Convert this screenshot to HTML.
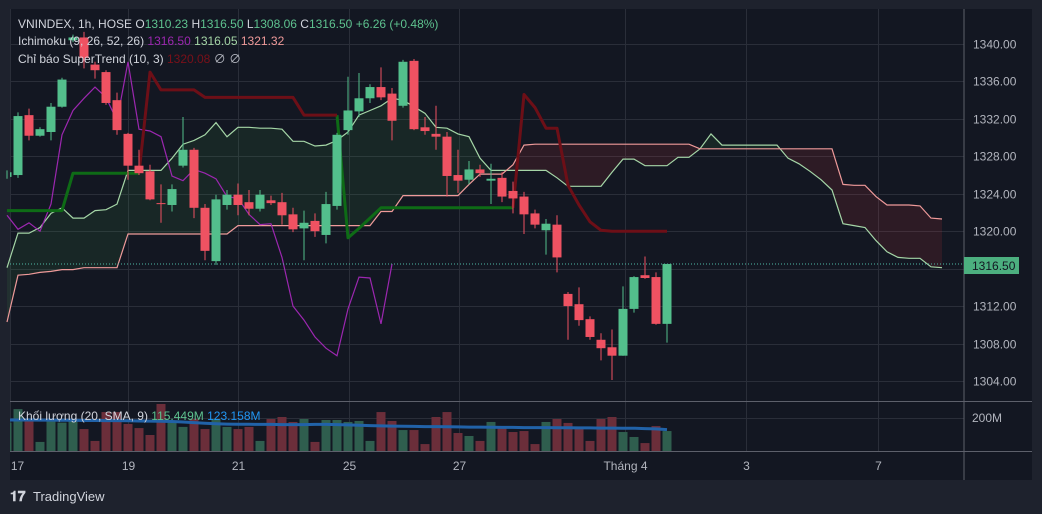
<!DOCTYPE html>
<html><head><meta charset="utf-8"><style>
html,body{margin:0;padding:0;background:#1e222d;}
svg{display:block;font-family:"Liberation Sans","Noto Sans CJK JP",sans-serif;}
</style></head><body>
<svg id="chart" width="1042" height="514" viewBox="0 0 1042 514" xmlns="http://www.w3.org/2000/svg">
<rect x="0" y="0" width="1042" height="514" fill="#1e222d"/>
<rect x="10" y="9" width="1022" height="471" fill="#131722"/>
<g id="grid"></g>
<g id="cloud"></g>
<g id="lines"></g>
<g id="vol"></g>
<g id="candles"></g>
<g id="axes"></g>
<line x1="964" y1="9" x2="964" y2="480" stroke="#5d606b" stroke-width="1"/>
<line x1="10" y1="401.5" x2="1032" y2="401.5" stroke="#5d606b" stroke-width="1"/>
<line x1="10" y1="451.5" x2="1032" y2="451.5" stroke="#5d606b" stroke-width="1"/>
<g font-size="12">
<text x="18" y="28" fill="#d1d4dc">VNINDEX, 1h, HOSE <tspan fill="#d1d4dc">O</tspan><tspan fill="#5ec28f">1310.23</tspan> <tspan>H</tspan><tspan fill="#5ec28f">1316.50</tspan> <tspan>L</tspan><tspan fill="#5ec28f">1308.06</tspan> <tspan>C</tspan><tspan fill="#5ec28f">1316.50</tspan> <tspan fill="#5ec28f">+6.26 (+0.48%)</tspan></text>
<text x="18" y="45" fill="#d1d4dc">Ichimoku (9, 26, 52, 26) <tspan fill="#9c27b0">1316.50</tspan> <tspan fill="#a5d6a7">1316.05</tspan> <tspan fill="#ef9a9a">1321.32</tspan></text>
<text x="18" y="63" fill="#d1d4dc">Chỉ báo SuperTrend (10, 3) <tspan fill="#7a1019">1320.08</tspan> <tspan fill="#b2b5be">∅</tspan> <tspan fill="#b2b5be">∅</tspan></text>
<text x="18" y="420" fill="#d1d4dc">Khối lượng (20, SMA, 9) <tspan fill="#5ec28f">115.449M</tspan> <tspan fill="#2196f3">123.158M</tspan></text>
</g>
<rect x="964" y="257" width="55" height="17" fill="#4caf7f"/>
<text x="972" y="270" font-size="12" fill="#131722">1316.50</text>
<g>
<text x="10" y="501" font-size="14" font-weight="bold" fill="#d1d4dc">𝟏𝟕</text>
<text x="33" y="501" font-size="13" fill="#d1d4dc">TradingView</text>
</g>
</svg>
<script>
const opens=[1325.8,1326.0,1332.4,1330.2,1330.6,1333.3,1340.4,1340.7,1337.8,1337.0,1334.0,1330.4,1327.0,1326.4,1323.0,1322.8,1327.0,1328.7,1322.5,1316.8,1322.8,1323.9,1323.1,1322.4,1323.3,1323.1,1321.8,1320.3,1321.1,1319.6,1322.7,1330.8,1332.8,1334.2,1335.4,1334.7,1333.4,1338.2,1331.1,1330.4,1330.1,1326.0,1325.5,1326.6,1325.4,1325.7,1324.3,1323.7,1321.9,1320.1,1320.7,1313.3,1312.2,1310.6,1308.4,1307.6,1306.7,1311.7,1315.3,1315.1,1310.1];
const highs=[1326.5,1332.7,1333.1,1331.1,1333.7,1336.4,1341.0,1341.3,1338.1,1337.2,1334.8,1330.5,1328.7,1327.1,1325.0,1325.0,1332.2,1328.9,1322.9,1323.9,1324.4,1325.1,1324.4,1324.4,1323.8,1324.1,1322.5,1322.2,1321.9,1324.2,1330.5,1336.5,1336.9,1335.7,1337.5,1335.3,1338.3,1338.4,1332.2,1333.4,1330.6,1328.7,1327.5,1327.1,1327.2,1326.3,1325.3,1324.2,1322.3,1321.3,1321.7,1313.5,1314.0,1310.9,1309.1,1309.5,1314.1,1315.2,1317.3,1315.6,1316.5];
const lows=[1325.6,1325.7,1329.7,1330.1,1329.7,1333.2,1340.2,1337.4,1336.3,1333.5,1330.3,1325.5,1326.0,1323.3,1320.9,1322.1,1326.8,1321.4,1316.9,1316.4,1322.3,1321.7,1321.7,1322.1,1322.8,1320.7,1319.9,1316.9,1319.4,1318.7,1322.3,1330.3,1332.2,1333.7,1334.0,1329.7,1333.2,1330.8,1330.3,1328.7,1323.7,1324.1,1325.0,1325.8,1322.9,1323.1,1321.9,1319.7,1320.3,1317.5,1315.6,1308.4,1309.9,1308.4,1306.2,1304.1,1306.7,1311.3,1314.9,1310.0,1308.1];
const closes=[1326.3,1332.3,1330.2,1330.9,1333.3,1336.2,1340.7,1338.5,1337.2,1333.7,1330.8,1327.0,1326.2,1323.4,1322.9,1324.5,1328.7,1322.5,1317.9,1323.4,1323.9,1322.8,1322.4,1323.9,1323.0,1321.7,1320.2,1320.9,1320.0,1322.9,1330.3,1332.9,1334.2,1335.4,1334.3,1331.8,1338.1,1330.9,1330.7,1330.1,1325.9,1325.4,1326.6,1326.2,1325.6,1323.7,1323.5,1321.8,1320.7,1320.8,1317.2,1312.0,1310.5,1308.7,1307.5,1306.7,1311.7,1315.1,1315.0,1310.1,1316.5];
const volumes=[172,254,194,55,194,172,188,133,61,236,236,164,139,97,285,172,146,194,133,194,146,133,146,61,194,206,176,194,55,188,188,176,182,61,236,182,127,127,42,206,236,109,91,61,176,139,115,121,42,176,194,170,133,61,194,206,115,85,48,151,121];
const volSma=[188,188,188,187,187,186,186,185,185,184,184,183,182,181,180,179,176,172,168,165,163,162,162,161,161,160,160,160,161,161,160,158,156,154,152,151,150,149,148,148,147,146,145,145,144,143,143,142,142,142,141,141,140,140,139,139,138,138,136,134,130];
const spanA=[1316.1,1319.8,1319.8,1320.4,1321.9,1322.5,1321.4,1321.4,1322.2,1322.3,1322.9,1326.5,1326.5,1326.5,1326.5,1327.8,1329.3,1329.7,1330.3,1331.6,1330.1,1331.1,1331.1,1331.0,1331.0,1330.9,1329.6,1329.6,1329.1,1329.2,1329.7,1330.6,1332.4,1332.9,1333.4,1334.2,1334.0,1333.3,1332.6,1331.1,1331.0,1330.4,1330.1,1327.8,1326.5,1326.5,1326.5,1326.5,1326.5,1326.5,1325.7,1324.8,1324.8,1324.8,1324.8,1326.3,1327.7,1327.7,1327.0,1327.0,1327.0,1327.9,1327.9,1328.8,1330.4,1329.2,1329.2,1329.2,1329.2,1329.2,1329.2,1327.8,1327.2,1326.4,1325.5,1324.4,1320.8,1320.6,1320.4,1319.0,1317.8,1317.2,1317.1,1317.1,1316.2,1316.1];
const spanB=[1310.3,1315.3,1315.4,1315.6,1315.7,1315.9,1315.9,1316.1,1316.1,1316.1,1316.1,1319.7,1319.7,1319.7,1319.7,1319.7,1319.7,1319.7,1319.7,1319.7,1319.7,1320.6,1320.6,1320.6,1320.6,1320.6,1320.6,1320.6,1320.6,1320.6,1320.6,1320.6,1320.6,1320.6,1322.1,1322.1,1323.8,1323.8,1323.8,1323.8,1323.8,1323.8,1325.0,1326.1,1326.1,1326.1,1327.1,1329.2,1329.3,1329.3,1329.3,1329.3,1329.3,1329.3,1329.3,1329.3,1329.3,1329.3,1329.3,1329.3,1329.3,1329.3,1329.3,1328.8,1328.8,1328.8,1328.8,1328.8,1328.8,1328.8,1328.8,1328.8,1328.8,1328.8,1328.8,1328.8,1325.0,1324.9,1324.9,1323.7,1322.8,1322.8,1322.8,1322.7,1321.4,1321.3];
const stUp=[1322.2,1322.2,1322.2,1322.2,1322.2,1322.2,1326.2,1326.2,1326.2,1326.2,1326.2,1326.2,1326.2,null,null,null,null,null,null,null,null,null,null,null,null,null,null,null,null,null,1332.4,1319.3,1320.3,1321.4,1322.5,1322.5,1322.5,1322.5,1322.5,1322.5,1322.5,1322.5,1322.5,1322.5,1322.5,1322.5,1322.5,null,null,null,null,null,null,null,null,null,null,null,null,null,null];
const stDown=[null,null,null,null,null,null,null,null,null,null,null,null,1326.2,1337.0,1335.1,1335.1,1335.1,1335.1,1334.3,1334.3,1334.3,1334.3,1334.3,1334.3,1334.3,1334.3,1334.3,1332.4,1332.4,1332.4,1332.4,null,null,null,null,null,null,null,null,null,null,null,null,null,null,null,1322.5,1334.6,1333.2,1331.0,1331.0,1324.9,1322.8,1321.0,1320.1,1320.0,1320.0,1320.0,1320.0,1320.0,1320.0];
const lagShift=25;
const priceTicks=[1340,1336,1332,1328,1324,1320,1316,1312,1308,1304];
const priceTickLabels=["1340.00","1336.00","1332.00","1328.00","1324.00","1320.00","1316.00","1312.00","1308.00","1304.00"];
const timeTickIdx=[0.3,11,21,31.1,41.1,56.2,67.2,79.2];
const timeTickLabels=["17","19","21","25","27","Tháng 4","3","7"];
const lastPrice=1316.5;

const NS="http://www.w3.org/2000/svg";
const xI=i=>7+11*i;
const yP=p=>44+(1340-p)*9.36;
const yV=v=>451-v*0.165;
function mk(tag,attrs,parent){const e=document.createElementNS(NS,tag);for(const k in attrs)e.setAttribute(k,attrs[k]);parent.appendChild(e);return e;}
const G=id=>document.getElementById(id);

// grid
priceTicks.forEach((p,k)=>{
  const y=Math.round(yP(p))+0.5;
  const l=mk('line',{x1:10,x2:964,y1:y,y2:y,stroke:'#2a2e39','stroke-width':1},G('grid'));
  
  
  const t=mk('text',{x:973,y:y+4,'font-size':12,fill:'#b2b5be'},G('axes'));
  t.textContent=priceTickLabels[k];
  
  
});
{
  const l=mk('line',{x1:10,x2:964,y1:418.5,y2:418.5,stroke:'#2a2e39','stroke-width':1},G('grid'));
  
  
  const t=mk('text',{x:972,y:422,'font-size':12,fill:'#b2b5be'},G('axes'));
  t.textContent='200M';
  
  
}
timeTickIdx.forEach((ti,k)=>{
  const x=Math.round(xI(ti))+0.5;
  const l=mk('line',{x1:x,x2:x,y1:9,y2:451,stroke:'#2a2e39','stroke-width':1},G('grid'));
  
  
  const t=mk('text',{x:x+(k===0?7:0),y:470,'font-size':12,fill:'#b2b5be','text-anchor':'middle'},G('axes'));
  t.textContent=timeTickLabels[k];
  
  
});

// cloud
for(let i=0;i<spanA.length-1;i++){
  const a0=yP(spanA[i]),a1=yP(spanA[i+1]),b0=yP(spanB[i]),b1=yP(spanB[i+1]);
  const bull=(spanA[i]+spanA[i+1])>=(spanB[i]+spanB[i+1]);
  const poly=mk('polygon',{points:`${xI(i)},${a0} ${xI(i+1)},${a1} ${xI(i+1)},${b1} ${xI(i)},${b0}`,fill:bull?'rgba(67,160,71,0.12)':'rgba(242,54,69,0.12)'},G('cloud'));
  
  
}
function pathOf(arr,offset){let d='',pen=false;arr.forEach((v,i)=>{if(v==null){pen=false;return;}d+=(pen?'L':'M')+xI(i+offset).toFixed(1)+','+yP(v).toFixed(1);pen=true;});return d;}
const la=mk('path',{d:pathOf(spanA,0),fill:'none',stroke:'#a5d6a7','stroke-width':1.2},G('lines'));


const lb=mk('path',{d:pathOf(spanB,0),fill:'none',stroke:'#ef9a9a','stroke-width':1.2},G('lines'));


const lag=closes.slice(lagShift);
const lg=mk('path',{d:pathOf(lag,0),fill:'none',stroke:'#9c27b0','stroke-width':1.2},G('lines'));


const su=mk('path',{d:pathOf(stUp,0),fill:'none',stroke:'#0e6b16','stroke-width':3,'stroke-linejoin':'round'},G('lines'));


const sd=mk('path',{d:pathOf(stDown,0),fill:'none',stroke:'#6d0f17','stroke-width':3,'stroke-linejoin':'round'},G('lines'));



// volume
volumes.forEach((v,i)=>{
  const up=closes[i]>=opens[i];
  const x=xI(i)-4.5;
  const r=mk('rect',{x:Math.max(10,x),y:yV(v),width:x<10?9-(10-x):9,height:451-yV(v),fill:up?'#2f5e4e':'#6b2e3a'},G('vol'));
  
  
});
let vd='';volSma.forEach((v,i)=>{vd+=(i?'L':'M')+Math.max(10,xI(i))+','+yV(v).toFixed(1);});
const vs=mk('path',{d:vd,fill:'none',stroke:'#2162a8','stroke-width':3},G('vol'));



// last price line
const lp=mk('line',{x1:10,x2:964,y1:yP(lastPrice),y2:yP(lastPrice),stroke:'#4fb9a6','stroke-width':1,'stroke-dasharray':'1 2'},G('lines'));



// candles
opens.forEach((o,i)=>{
  const c=closes[i],up=c>=o,col=up?'#53bf8c':'#ef5262';
  const x=xI(i);
  const w=mk('line',{x1:x,x2:x,y1:yP(highs[i]),y2:yP(lows[i]),stroke:col,'stroke-width':1},G('candles'));
  
  
  const top=yP(Math.max(o,c)),bot=yP(Math.min(o,c));
  const bx=x-4.5;
  const b=mk('rect',{x:Math.max(10,bx),y:top,width:bx<10?9-(10-bx):9,height:Math.max(1,bot-top),fill:col},G('candles'));
  
  
});
</script>
</body></html>
